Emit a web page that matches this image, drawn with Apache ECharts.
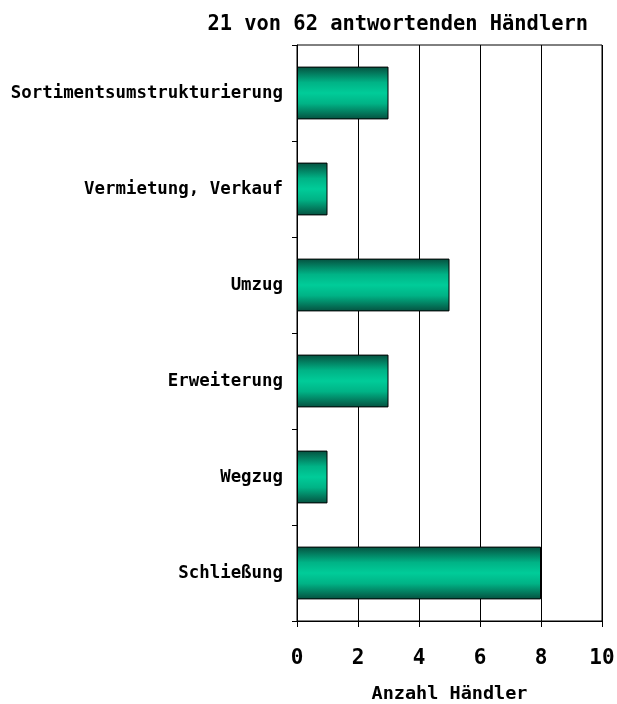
<!DOCTYPE html>
<html>
<head>
<meta charset="utf-8">
<script src="https://cdn.jsdelivr.net/npm/echarts@6/dist/echarts.min.js"></script>
<style>
  html, body { margin: 0; padding: 0; background: #fff; }
  #chart { width: 617px; height: 704px; }
</style>
</head>
<body>
<div id="chart"></div>
<script>
// data, top to bottom
const categories = ['Sortimentsumstrukturierung', 'Vermietung, Verkauf', 'Umzug', 'Erweiterung', 'Wegzug', 'Schließung']
const counts = [3, 1, 5, 3, 1, 8]
const xTicks = [0, 2, 4, 6, 8, 10]

const font = '"DejaVu Sans Mono", "Liberation Mono", monospace'

const chart = echarts.init(document.getElementById('chart'))
chart.setOption({
  animation: false,
  title: {
    text: '21 von 62 antwortenden Händlern',
    right: 24,
    top: 10,
    textStyle: {
      fontFamily: font,
      fontWeight: 'bold',
      fontSize: 20.4,
      color: '#000'
    }
  },
  grid: {
    left: 297,
    right: 15,
    top: 45,
    bottom: 83,
    show: true,
    borderColor: '#000',
    borderWidth: 1,
    containLabel: false,
    outerBoundsMode: 'none'
  },
  xAxis: {
    type: 'value',
    min: xTicks[0],
    max: xTicks[xTicks.length - 1],
    interval: 2,
    name: 'Anzahl Händler',
    nameLocation: 'middle',
    nameGap: 64,
    nameTextStyle: {
      fontFamily: font,
      fontWeight: 'bold',
      fontSize: 18.5,
      color: '#000'
    },
    axisLine: { show: true, lineStyle: { color: '#000', width: 1 } },
    axisTick: { show: true, length: 6, lineStyle: { color: '#000' } },
    axisLabel: {
      margin: 27,
      fontFamily: font,
      fontWeight: 'bold',
      fontSize: 21,
      color: '#000'
    },
    splitLine: { show: true, lineStyle: { color: '#000', width: 1 } }
  },
  yAxis: {
    type: 'category',
    data: categories,
    inverse: true,
    axisLine: { show: true, lineStyle: { color: '#000', width: 1 } },
    axisTick: { show: true, length: 5, lineStyle: { color: '#000' } },
    axisLabel: {
      margin: 14,
      fontFamily: font,
      fontWeight: 'bold',
      fontSize: 17.4,
      color: '#000'
    }
  },
  series: [{
    type: 'bar',
    data: counts,
    barCategoryGap: '45%',
    itemStyle: {
      borderColor: '#000',
      borderWidth: 1,
      color: new echarts.graphic.LinearGradient(0, 0, 0, 1, [
        { offset: 0, color: '#05503f' },
        { offset: 0.3, color: '#00b386' },
        { offset: 0.5, color: '#00cc99' },
        { offset: 0.7, color: '#00b386' },
        { offset: 1, color: '#05503f' }
      ])
    }
  }]
})
</script>
</body>
</html>
